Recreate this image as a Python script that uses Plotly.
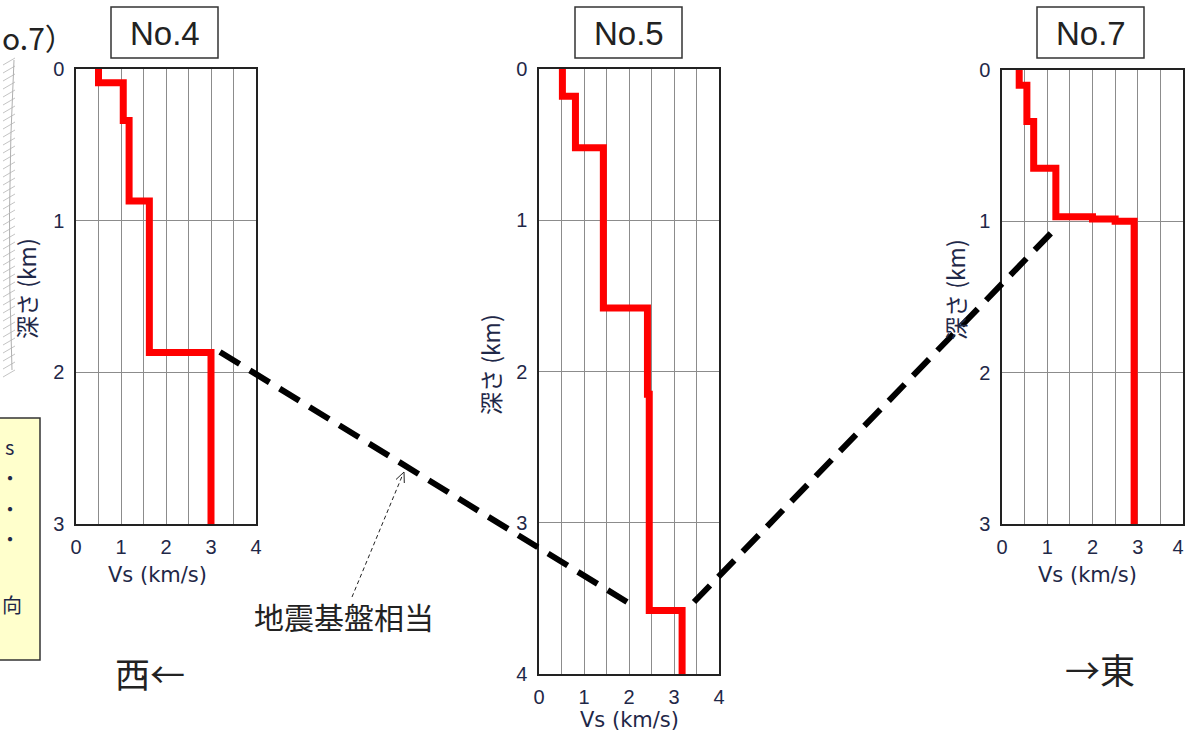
import plotly.graph_objects as go

# ---------------- data ----------------
sites = ["No.4", "No.5", "No.7"]

no4_vs = [0.5, 1.05, 1.18, 1.63, 3.0]
no4_top = [0.0, 0.09, 0.34, 0.87, 1.87]
no4_bottom = 3.0

no5_vs = [0.52, 0.81, 1.43, 2.41, 2.45, 3.18]
no5_top = [0.0, 0.18, 0.52, 1.58, 2.15, 3.58]
no5_bottom = 4.0

no7_vs = [0.38, 0.55, 0.70, 1.19, 2.0, 2.5, 2.92]
no7_top = [0.0, 0.10, 0.34, 0.65, 0.97, 0.985, 1.0]
no7_bottom = 3.0

x_ticks = [0, 1, 2, 3, 4]
x_ticklabels = ["0", "1", "2", "3", "4"]
x_title = "Vs (km/s)"
y_title = "深さ (km)"
basement_label = "地震基盤相当"
west_label = "西←"
east_label = "→東"

# ---------------- layout helpers ----------------
W, H = 1186, 734
def px(x):
    return x / W
def py(y):
    return 1 - y / H

TXT = "#1f2848"
TICKFONT = dict(family="Liberation Sans, Arial, sans-serif", size=20, color=TXT)
JP = "Noto Sans CJK JP"

panels = [
    # name, vs, tops, bottom, (left,right) px, (top,bottom) px, title box px, xtitle pos, ytitle pos
    ("No.4", no4_vs, no4_top, no4_bottom, (76, 256), (69, 524), (111, 7, 218, 58), (157, 575), (26, 289)),
    ("No.5", no5_vs, no5_top, no5_bottom, (539, 719), (69, 674), (575, 7, 682, 58), (629, 720), (490, 365)),
    ("No.7", no7_vs, no7_top, no7_bottom, (1002, 1183), (70, 524), (1037, 7, 1144, 58), (1087, 575), (955, 290)),
]

fig = go.Figure()
shapes = []
annotations = []

for i, (name, vs, tops, bottom, xd, yd, box, xt, yt) in enumerate(panels, start=1):
    xa = "x" if i == 1 else f"x{i}"
    ya = "y" if i == 1 else f"y{i}"
    fig.add_trace(go.Scatter(
        x=vs + [vs[-1]], y=tops + [bottom], mode="lines", line_shape="vh",
        line=dict(color="#ff0000", width=7), xaxis=xa, yaxis=ya,
        hoverinfo="skip", showlegend=False,
    ))
    labels = list(x_ticklabels)
    if i == 3:
        # last label sits against the page edge: nudge it left so it stays visible
        labels[-1] = labels[-1] + "\u2002"
    axx = dict(
        domain=[px(xd[0]), px(xd[1])], range=[0, 4], tickvals=x_ticks, ticktext=labels,
        showgrid=True, gridcolor="#8c8c8c", gridwidth=1,
        minor=dict(dtick=0.5, tick0=0, showgrid=True, gridcolor="#8c8c8c", gridwidth=1),
        showline=True, mirror=True, linecolor="#222222", linewidth=1.5,
        ticks="", tickfont=TICKFONT, ticklabelstandoff=4, zeroline=False,
        ticklabeloverflow="allow",
        anchor=ya, fixedrange=True, automargin=False,
    )
    axy = dict(
        domain=[py(yd[1]), py(yd[0])], range=[bottom, 0], dtick=1, tick0=0,
        showgrid=True, gridcolor="#8c8c8c", gridwidth=1,
        showline=True, mirror=True, linecolor="#222222", linewidth=1.5,
        ticks="", tickfont=TICKFONT, ticklabelstandoff=6, zeroline=False,
        ticklabeloverflow="allow",
        anchor=xa, fixedrange=True, automargin=False,
    )
    fig.update_layout({("xaxis" if i == 1 else f"xaxis{i}"): axx,
                       ("yaxis" if i == 1 else f"yaxis{i}"): axy})
    # title box
    shapes.append(dict(type="rect", xref="paper", yref="paper",
                       x0=px(box[0]), x1=px(box[2]), y0=py(box[3]), y1=py(box[1]),
                       line=dict(color="#333333", width=1.5), fillcolor="white", layer="above"))
    annotations.append(dict(text=name, xref="paper", yref="paper",
                            x=px((box[0] + box[2]) / 2), y=py((box[1] + box[3]) / 2 + 1),
                            xanchor="center", yanchor="middle", showarrow=False,
                            font=dict(family="Liberation Sans, Arial", size=33, color="#222222")))
    annotations.append(dict(text=x_title, xref="paper", yref="paper",
                            x=px(xt[0]), y=py(xt[1]), xanchor="center", yanchor="middle",
                            showarrow=False, font=dict(family="DejaVu Sans", size=21, color=TXT)))
    annotations.append(dict(text=y_title, xref="paper", yref="paper", textangle=-90,
                            x=px(yt[0]), y=py(yt[1]), xanchor="center", yanchor="middle",
                            showarrow=False, font=dict(family=JP, size=23, color=TXT)))

# dashed "seismic basement" connector lines
for (x0, y0, x1, y1) in [(220, 352, 627, 602), (694, 602, 1056, 228)]:
    shapes.append(dict(type="line", xref="paper", yref="paper",
                       x0=px(x0), y0=py(y0), x1=px(x1), y1=py(y1),
                       line=dict(color="black", width=6, dash="23px,12px"), layer="above"))

# thin dashed pointer + arrowhead
shapes.append(dict(type="line", xref="paper", yref="paper",
                   x0=px(352), y0=py(597), x1=px(403), y1=py(474),
                   line=dict(color="#222222", width=1, dash="4px,3px")))
shapes.append(dict(type="path", xref="paper", yref="paper",
                   path=f"M {px(404.3)},{py(483)} L {px(404)},{py(472)} L {px(396)},{py(479.5)}",
                   line=dict(color="#222222", width=1)))

annotations.append(dict(text=basement_label, xref="paper", yref="paper", x=px(344), y=py(616),
                        xanchor="center", yanchor="middle", showarrow=False,
                        font=dict(family=JP, size=30, color="#222222")))
annotations.append(dict(text=west_label, xref="paper", yref="paper", x=px(150), y=py(672),
                        xanchor="center", yanchor="middle", showarrow=False,
                        font=dict(family=JP, size=35, color="#222222")))
annotations.append(dict(text=east_label, xref="paper", yref="paper", x=px(1100), y=py(668),
                        xanchor="center", yanchor="middle", showarrow=False,
                        font=dict(family=JP, size=35, color="#222222")))

# partial neighbouring figure at the left edge
annotations.append(dict(text="o.7）", xref="paper", yref="paper", x=px(0), y=py(37),
                        xanchor="left", yanchor="middle", showarrow=False,
                        font=dict(family="Noto Sans CJK JP", size=30, color="#222222")))
hatch = []
for k in range(40):
    yy = 58 + k * 8
    hatch.append(f"M {px(3)},{py(yy + 7)} L {px(15)},{py(yy)}")
shapes.append(dict(type="path", xref="paper", yref="paper", path=" ".join(hatch),
                   line=dict(color="#c4c4c4", width=1)))
shapes.append(dict(type="path", xref="paper", yref="paper",
                   path=f"M {px(14)},{py(60)} Q {px(6)},{py(210)} {px(12)},{py(370)}",
                   line=dict(color="#b0b0b0", width=1)))
shapes.append(dict(type="rect", xref="paper", yref="paper",
                   x0=px(-3), x1=px(40), y0=py(660), y1=py(418),
                   line=dict(color="#333333", width=1.5), fillcolor="#ffffcc", layer="below"))
for (t, xx, yy) in [("s", 9, 446), ("・", 10, 478), ("・", 10, 508), ("・", 10, 538), ("向", 12, 604)]:
    annotations.append(dict(text=t, xref="paper", yref="paper", x=px(xx), y=py(yy),
                            xanchor="center", yanchor="middle", showarrow=False,
                            font=dict(family=JP, size=20, color="#1f2848")))

fig.update_layout(
    width=W, height=H, margin=dict(l=0, r=0, t=0, b=0, autoexpand=False),
    paper_bgcolor="white", plot_bgcolor="white",
    shapes=shapes, annotations=annotations, showlegend=False,
)

fig.write_html("out.html", config={"displayModeBar": False},
               post_script="document.body.style.margin='0';")
